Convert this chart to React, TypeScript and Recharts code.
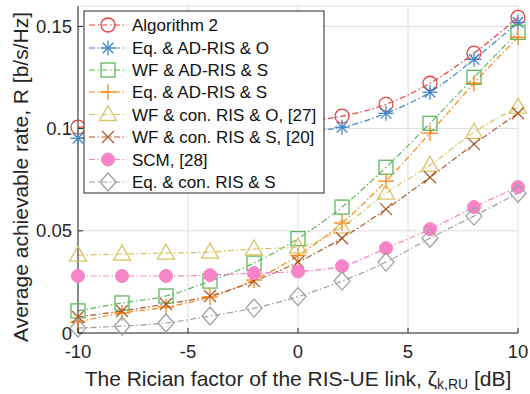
import React from "react";
import { LineChart, Line, XAxis, YAxis, CartesianGrid } from "recharts";

// Rician factor of the RIS-UE link (dB)
const ricianDb = [-10, -8, -6, -4, -2, 0, 2, 4, 6, 8, 10];

// Average achievable rate per scheme (b/s/Hz)
const algorithm2 = [0.1007, 0.1009, 0.1012, 0.1018, 0.1025, 0.1035, 0.1061, 0.1119, 0.1222, 0.1369, 0.1544];
const eqAdRisO = [0.0953, 0.0956, 0.096, 0.0966, 0.0974, 0.0986, 0.1007, 0.1075, 0.1178, 0.1339, 0.152];
const wfAdRisS = [0.0108, 0.0147, 0.0181, 0.0254, 0.0342, 0.0462, 0.0616, 0.0811, 0.1026, 0.1251, 0.1471];
const eqAdRisS = [0.0054, 0.0098, 0.0127, 0.0176, 0.0259, 0.0379, 0.0538, 0.0743, 0.0978, 0.1222, 0.1447];
const wfConRisO = [0.0381, 0.0386, 0.0391, 0.0396, 0.0411, 0.042, 0.0518, 0.0684, 0.0821, 0.0982, 0.1105];
const wfConRisS = [0.0078, 0.0108, 0.0142, 0.0181, 0.0254, 0.0347, 0.0464, 0.0606, 0.0762, 0.0924, 0.1075];
const scm = [0.0279, 0.0279, 0.0279, 0.0283, 0.0293, 0.0301, 0.0327, 0.0415, 0.0508, 0.0616, 0.0714];
const eqConRisS = [0.0024, 0.0034, 0.0049, 0.0083, 0.0122, 0.0178, 0.0254, 0.0347, 0.0464, 0.0572, 0.0684];

const xTicks = [-10, -5, 0, 5, 10];
const yTicks = [0, 0.05, 0.1, 0.15];

const seriesNames = [
  "Algorithm 2",
  "Eq. & AD-RIS & O",
  "WF & AD-RIS & S",
  "Eq. & AD-RIS & S",
  "WF & con. RIS & O, [27]",
  "WF & con. RIS & S, [20]",
  "SCM, [28]",
  "Eq. & con. RIS & S",
];

type MarkKind = "circle" | "asterisk" | "square" | "plus" | "triangle" | "cross" | "dot" | "diamond";

const seriesDefs: { key: string; name: string; values: number[]; color: string; mark: MarkKind }[] = [
  { key: "alg2", name: seriesNames[0], values: algorithm2, color: "#e8413c", mark: "circle" },
  { key: "eqAdO", name: seriesNames[1], values: eqAdRisO, color: "#3f86c8", mark: "asterisk" },
  { key: "wfAdS", name: seriesNames[2], values: wfAdRisS, color: "#5cb85a", mark: "square" },
  { key: "eqAdS", name: seriesNames[3], values: eqAdRisS, color: "#ff8210", mark: "plus" },
  { key: "wfConO", name: seriesNames[4], values: wfConRisO, color: "#d8c464", mark: "triangle" },
  { key: "wfConS", name: seriesNames[5], values: wfConRisS, color: "#ad5a2a", mark: "cross" },
  { key: "scm", name: seriesNames[6], values: scm, color: "#f784c6", mark: "dot" },
  { key: "eqConS", name: seriesNames[7], values: eqConRisS, color: "#a0a0a0", mark: "diamond" },
];

const data = ricianDb.map((x, i) => {
  const row: Record<string, number> = { x };
  seriesDefs.forEach((s) => {
    row[s.key] = s.values[i];
  });
  return row;
});

const FONT = "'Liberation Sans', Arial, Helvetica, sans-serif";
const AXIS = "#262626";
const GRID = "#dedede";
const DASH = "6 2.5 1.5 2.5";

function Mark({ kind, x, y, color }: { kind: MarkKind; x: number; y: number; color: string }) {
  const sw = 1.3;
  switch (kind) {
    case "circle":
      return <circle cx={x} cy={y} r={7} fill="none" stroke={color} strokeWidth={sw} />;
    case "asterisk": {
      const r = 7.5;
      const d = 5.3;
      return (
        <g stroke={color} strokeWidth={sw}>
          <line x1={x - r} y1={y} x2={x + r} y2={y} />
          <line x1={x} y1={y - r} x2={x} y2={y + r} />
          <line x1={x - d} y1={y - d} x2={x + d} y2={y + d} />
          <line x1={x - d} y1={y + d} x2={x + d} y2={y - d} />
        </g>
      );
    }
    case "square":
      return <rect x={x - 7} y={y - 7} width={14} height={14} fill="none" stroke={color} strokeWidth={sw} />;
    case "plus": {
      const r = 8;
      return (
        <g stroke={color} strokeWidth={sw}>
          <line x1={x - r} y1={y} x2={x + r} y2={y} />
          <line x1={x} y1={y - r} x2={x} y2={y + r} />
        </g>
      );
    }
    case "triangle":
      return (
        <polygon
          points={`${x},${y - 9} ${x + 8.5},${y + 6} ${x - 8.5},${y + 6}`}
          fill="none"
          stroke={color}
          strokeWidth={sw}
        />
      );
    case "cross": {
      const r = 6;
      return (
        <g stroke={color} strokeWidth={sw}>
          <line x1={x - r} y1={y - r} x2={x + r} y2={y + r} />
          <line x1={x - r} y1={y + r} x2={x + r} y2={y - r} />
        </g>
      );
    }
    case "dot":
      return <circle cx={x} cy={y} r={6.5} fill={color} stroke={color} strokeWidth={1} />;
    case "diamond":
      return (
        <polygon
          points={`${x},${y - 9} ${x + 8},${y} ${x},${y + 9} ${x - 8},${y}`}
          fill="none"
          stroke={color}
          strokeWidth={sw}
        />
      );
    default:
      return null;
  }
}

const BottomTick = (props: any) => {
  const { x, y, payload } = props;
  return (
    <g>
      <line x1={x} y1={y} x2={x} y2={y - 5} stroke={AXIS} strokeWidth={1} />
      <text x={x} y={y + 25} textAnchor="middle" fontFamily={FONT} fontSize={18.5} fill={AXIS}>
        {String(payload.value)}
      </text>
    </g>
  );
};

const TopTick = (props: any) => {
  const { x, y } = props;
  return <line x1={x} y1={y} x2={x} y2={y + 5} stroke={AXIS} strokeWidth={1} />;
};

const LeftTick = (props: any) => {
  const { x, y, payload } = props;
  return (
    <g>
      <line x1={x} y1={y} x2={x + 5} y2={y} stroke={AXIS} strokeWidth={1} />
      <text x={x - 6} y={y} dy="0.36em" textAnchor="end" fontFamily={FONT} fontSize={18.5} fill={AXIS}>
        {String(payload.value)}
      </text>
    </g>
  );
};

const RightTick = (props: any) => {
  const { x, y } = props;
  return <line x1={x} y1={y} x2={x - 5} y2={y} stroke={AXIS} strokeWidth={1} />;
};

const XTitle = (props: any) => {
  const vb = props.viewBox;
  return (
    <text x={vb.x + vb.width / 2} y={vb.y + 53} textAnchor="middle" fontFamily={FONT} fontSize={21} fill={AXIS}>
      The Rician factor of the RIS-UE link, ζ
      <tspan fontSize={14} dy={3}>k,RU</tspan>
      <tspan dy={-3}> [dB]</tspan>
    </text>
  );
};

const YTitle = (props: any) => {
  const vb = props.viewBox;
  const cx = 28;
  const cy = vb.y + 171;
  return (
    <text
      x={cx}
      y={cy}
      textAnchor="middle"
      fontFamily={FONT}
      fontSize={21}
      fill={AXIS}
      transform={`rotate(-90 ${cx} ${cy})`}
    >
      Average achievable rate, R [b/s/Hz]
    </text>
  );
};

function LegendBox() {
  const left = 84;
  const top = 11;
  const rowY = [25, 48, 70, 92, 114.5, 137, 159.5, 182];
  return (
    <svg
      width={530}
      height={394}
      style={{ position: "absolute", left: 0, top: 0, pointerEvents: "none" }}
    >
      <rect x={left} y={top} width={240} height={182} fill="#ffffff" stroke={AXIS} strokeWidth={1} />
      {seriesDefs.map((s, i) => (
        <g key={s.key}>
          <line
            x1={89}
            y1={rowY[i]}
            x2={127}
            y2={rowY[i]}
            stroke={s.color}
            strokeWidth={1.2}
            strokeDasharray={DASH}
          />
          <Mark kind={s.mark} x={108} y={rowY[i]} color={s.color} />
          <text x={132} y={rowY[i]} dy="0.36em" fontFamily={FONT} fontSize={17} fill="#111111">
            {s.name}
          </text>
        </g>
      ))}
    </svg>
  );
}

export default function App() {
  return (
    <div style={{ position: "absolute", left: 0, top: 0, width: 530, height: 394, background: "#ffffff" }}>
      <LineChart width={530} height={394} data={data} margin={{ top: 6, right: 12, bottom: 0, left: 0 }}>
        <CartesianGrid stroke={GRID} strokeWidth={1} />
        <XAxis
          dataKey="x"
          type="number"
          domain={[-10, 10]}
          ticks={xTicks}
          height={61}
          tickSize={0}
          tickMargin={0}
          tickLine={false}
          axisLine={{ stroke: AXIS, strokeWidth: 1 }}
          tick={<BottomTick />}
          label={<XTitle />}
        />
        <XAxis
          xAxisId="top"
          orientation="top"
          dataKey="x"
          type="number"
          domain={[-10, 10]}
          ticks={xTicks}
          height={0}
          tickSize={0}
          tickMargin={0}
          tickLine={false}
          axisLine={{ stroke: AXIS, strokeWidth: 1 }}
          tick={<TopTick />}
        />
        <YAxis
          type="number"
          domain={[0, 0.16]}
          ticks={yTicks}
          width={78}
          tickSize={0}
          tickMargin={0}
          tickLine={false}
          axisLine={{ stroke: AXIS, strokeWidth: 1 }}
          tick={<LeftTick />}
          label={<YTitle />}
        />
        <YAxis
          yAxisId="right"
          orientation="right"
          type="number"
          domain={[0, 0.16]}
          ticks={yTicks}
          width={0}
          tickSize={0}
          tickMargin={0}
          tickLine={false}
          axisLine={{ stroke: AXIS, strokeWidth: 1 }}
          tick={<RightTick />}
        />
        {seriesDefs.map((s) => (
          <Line
            key={s.key}
            dataKey={s.key}
            name={s.name}
            type="monotone"
            stroke={s.color}
            strokeWidth={1.2}
            strokeDasharray={DASH}
            isAnimationActive={false}
            activeDot={false}
            dot={(p: any) => <Mark key={`${s.key}-${p.index}`} kind={s.mark} x={p.cx} y={p.cy} color={s.color} />}
          />
        ))}
      </LineChart>
      <LegendBox />
    </div>
  );
}
